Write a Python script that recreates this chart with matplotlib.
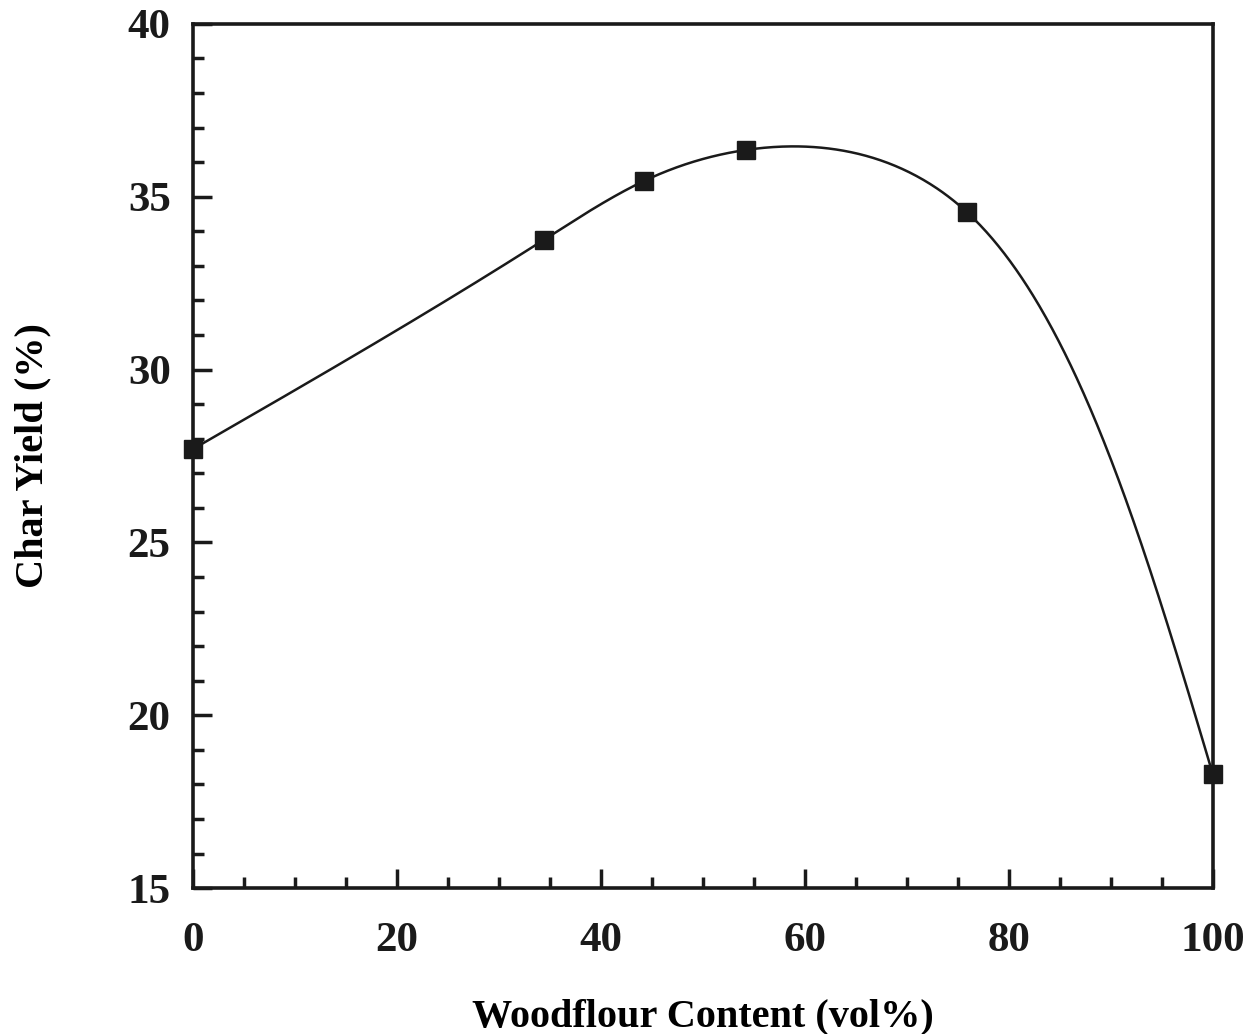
import numpy as np
import matplotlib.pyplot as plt
from matplotlib.ticker import MultipleLocator

# measured points
woodflour = [0.0, 34.4, 44.2, 54.2, 75.9, 100.0]
char_yield = [27.7, 33.75, 35.45, 36.35, 34.55, 18.3]


def natural_spline(t, y, ts):
    '''natural cubic spline through (t, y), evaluated at ts'''
    t = np.asarray(t, float)
    y = np.asarray(y, float)
    n = len(t)
    h = np.diff(t)
    A = np.zeros((n, n))
    b = np.zeros(n)
    A[0, 0] = A[-1, -1] = 1.0
    for i in range(1, n - 1):
        A[i, i - 1] = h[i - 1]
        A[i, i] = 2 * (h[i - 1] + h[i])
        A[i, i + 1] = h[i]
        b[i] = 6 * ((y[i + 1] - y[i]) / h[i] - (y[i] - y[i - 1]) / h[i - 1])
    M = np.linalg.solve(A, b)
    idx = np.clip(np.searchsorted(t, ts) - 1, 0, n - 2)
    t0, t1 = t[idx], t[idx + 1]
    hh = t1 - t0
    a = t1 - ts
    c = ts - t0
    return (M[idx] * a**3 / (6 * hh) + M[idx + 1] * c**3 / (6 * hh)
            + (y[idx] / hh - M[idx] * hh / 6) * a
            + (y[idx + 1] / hh - M[idx + 1] * hh / 6) * c)


def smooth_curve(x, y, sx=10.2, sy=17.0, num=800):
    '''parametric spline with chord length parameter'''
    x = np.asarray(x, float)
    y = np.asarray(y, float)
    d = np.hypot(np.diff(x) * sx, np.diff(y) * sy)
    t = np.concatenate([[0], np.cumsum(d)])
    ts = np.linspace(0, t[-1], num)
    return natural_spline(t, x, ts), natural_spline(t, y, ts)


plt.rcParams['font.family'] = 'Liberation Serif'
plt.rcParams['font.weight'] = 'bold'

fig = plt.figure(figsize=(12.49, 10.34), dpi=100)
ax = fig.add_axes([0.1545, 0.141, 0.8165, 0.836])

cx, cy = smooth_curve(woodflour, char_yield)
ax.plot(cx, cy, color='#1a1a1a', lw=1.8)
ax.plot(woodflour, char_yield, 's', color='#1a1a1a', ms=13, clip_on=False)

ax.set_xlim(0, 100)
ax.set_ylim(15, 40)
ax.xaxis.set_major_locator(MultipleLocator(20))
ax.xaxis.set_minor_locator(MultipleLocator(5))
ax.yaxis.set_major_locator(MultipleLocator(5))
ax.yaxis.set_minor_locator(MultipleLocator(1))
ax.tick_params(which='both', direction='in', width=2.5, top=False, right=False,
               labelsize=31, colors='#1a1a1a')
ax.tick_params(which='major', length=14)
ax.tick_params(which='minor', length=8)
ax.tick_params(axis='x', which='major', pad=24)
ax.tick_params(axis='y', which='major', pad=16)
for s in ax.spines.values():
    s.set_linewidth(2.6)
    s.set_color('#1a1a1a')

ax.set_xlabel('Woodflour Content (vol%)', fontsize=29, fontweight='bold', labelpad=28)
ax.set_ylabel('Char Yield (%)', fontsize=29, fontweight='bold', labelpad=55)

fig.savefig('out.png', dpi=100)
